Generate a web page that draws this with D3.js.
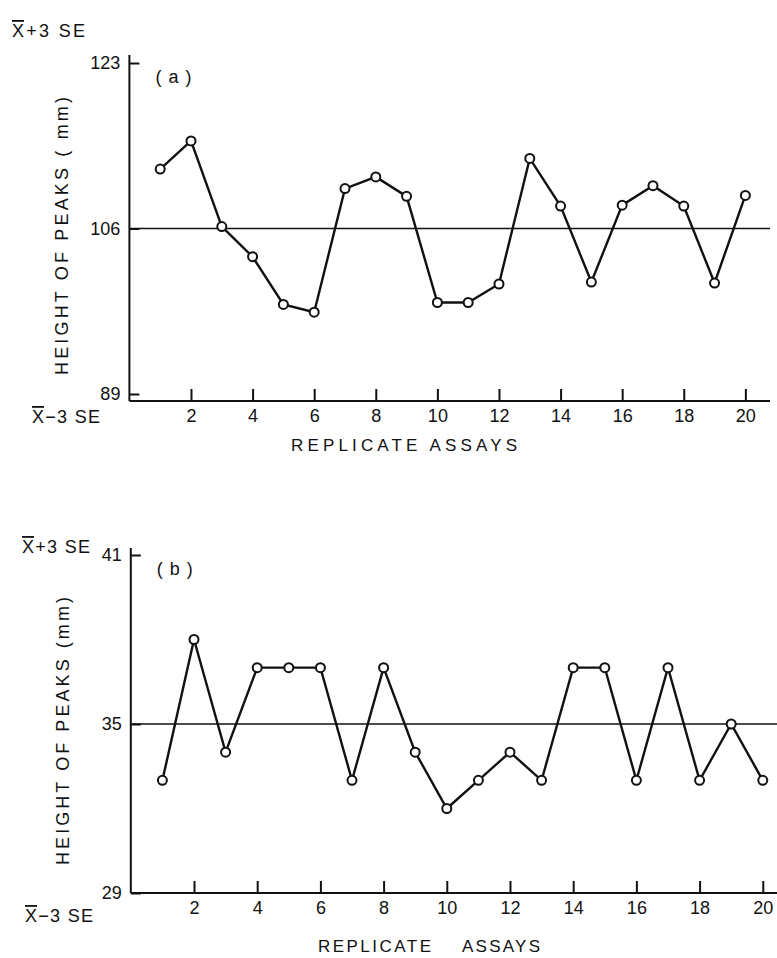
<!DOCTYPE html>
<html>
<head>
<meta charset="utf-8">
<script src="https://cdn.jsdelivr.net/npm/d3@7"></script>
<style>
body { margin:0; background:#fff; }
text { font-family:"Liberation Sans", Arial, sans-serif; fill:#111; }
</style>
</head>
<body>
<div id="chart"></div>
<script>
const width = 777
const height = 958

// replicate assay number
const assays = [1,2,3,4,5,6,7,8,9,10,11,12,13,14,15,16,17,18,19,20]
// height of peaks (mm), panel (a) and (b)
const peaksA = [112.1,115.0,106.2,103.1,98.2,97.4,110.1,111.3,109.3,98.4,98.4,100.3,113.2,108.3,100.5,108.4,110.4,108.3,100.4,109.4]
const peaksB = [33,38,34,37,37,37,33,37,34,32,33,34,33,37,37,33,37,33,35,33]
const xTicks = [2,4,6,8,10,12,14,16,18,20]
const yTicksA = [89,106,123]
const yTicksB = [29,35,41]
const meanA = 106
const meanB = 35

const svg = d3.select("#chart")
.append("svg")
.attr("width",width)
.attr("height",height)

function panel(opt){
const x = d3.scaleLinear().domain([0,opt.xMax]).range([opt.left,opt.right])
const y = d3.scaleLinear().domain(opt.yDomain).range(opt.yRange)
const g = svg.append("g")

// axis lines
g.append("line")
.attr("x1",opt.left).attr("x2",opt.left)
.attr("y1",opt.axisTop).attr("y2",opt.axisY)
.attr("stroke","#111").attr("stroke-width",2)
g.append("line")
.attr("x1",opt.left).attr("x2",opt.right)
.attr("y1",opt.axisY).attr("y2",opt.axisY)
.attr("stroke","#111").attr("stroke-width",2)

const xAxis = g.append("g")
.attr("transform",`translate(0,${opt.axisY})`)
.call(d3.axisBottom(x).tickValues(xTicks).tickSizeInner(-12).tickSizeOuter(0).tickPadding(8))
xAxis.select(".domain").remove()
xAxis.selectAll("line").attr("stroke","#111").attr("stroke-width",2)
xAxis.selectAll("text").attr("font-size",18).attr("font-family","Liberation Sans").attr("fill","#111")

const yAxis = g.append("g")
.attr("transform",`translate(${opt.left},0)`)
.call(d3.axisLeft(y).tickValues(opt.yTicks).tickSizeInner(-10).tickSizeOuter(0).tickPadding(9))
yAxis.select(".domain").remove()
yAxis.selectAll("line").attr("stroke","#111").attr("stroke-width",2)
yAxis.selectAll("text").attr("font-size",18).attr("font-family","Liberation Sans").attr("fill","#111")

// mean line
g.append("line")
.attr("x1",opt.left).attr("x2",opt.right)
.attr("y1",y(opt.mean)).attr("y2",y(opt.mean))
.attr("stroke","#111").attr("stroke-width",1.6)

const pts = assays.map((a,i)=>({a:a,v:opt.values[i]}))

g.append("path")
.datum(pts)
.attr("fill","none")
.attr("stroke","#111")
.attr("stroke-width",2.4)
.attr("d",d3.line().x(d=>x(d.a)).y(d=>y(d.v)))

g.selectAll("circle")
.data(pts)
.enter()
.append("circle")
.attr("cx",d=>x(d.a))
.attr("cy",d=>y(d.v))
.attr("r",4.5)
.attr("fill","#fff")
.attr("stroke","#111")
.attr("stroke-width",2)

// panel letter
g.append("text")
.attr("x",opt.left+26).attr("y",opt.letterY)
.attr("font-size",18)
.attr("textLength",36)
.attr("lengthAdjust","spacing")
.text(opt.letter)

// y title
g.append("text")
.attr("transform",`translate(${opt.yTitleX},${opt.yTitleY}) rotate(-90)`)
.attr("text-anchor","middle")
.attr("font-size",18)
.attr("textLength",opt.yTitleLen)
.attr("lengthAdjust","spacing")
.text(opt.yTitle)

return {x,y,g}
}

function seLabel(xp,yp,sign,len){
const t = svg.append("text")
.attr("x",xp).attr("y",yp)
.attr("font-size",18)
.attr("textLength",len)
.attr("lengthAdjust","spacing")
t.append("tspan").style("text-decoration","overline").text("X")
t.append("tspan").text(sign+"3 SE")
}

const pa = panel({
left:129.4, right:770, xMax:20.8,
yDomain:[89,123], yRange:[394,63],
axisTop:55, axisY:401,
yTicks:yTicksA, mean:meanA, values:peaksA,
letter:"(a)", letterY:83,
yTitle:"HEIGHT OF PEAKS ( mm)", yTitleX:68, yTitleY:236, yTitleLen:278
})

pa.g.append("text")
.attr("x",291).attr("y",451)
.attr("font-size",17)
.attr("textLength",226)
.attr("lengthAdjust","spacing")
.text("REPLICATE ASSAYS")

const pb = panel({
left:130.8, right:777, xMax:20.45,
yDomain:[29,41], yRange:[893,555],
axisTop:548, axisY:893,
yTicks:yTicksB, mean:meanB, values:peaksB,
letter:"(b)", letterY:575,
yTitle:"HEIGHT OF PEAKS (mm)", yTitleX:69, yTitleY:731, yTitleLen:268
})

pb.g.append("text")
.attr("x",318).attr("y",952)
.attr("font-size",17)
.attr("textLength",113)
.attr("lengthAdjust","spacing")
.text("REPLICATE")
pb.g.append("text")
.attr("x",462).attr("y",952)
.attr("font-size",17)
.attr("textLength",78)
.attr("lengthAdjust","spacing")
.text("ASSAYS")

seLabel(12,37,"+",73)
seLabel(32,423,"\u2212",68)
seLabel(22,553,"+",68)
seLabel(25,922,"\u2212",68)
</script>
</body>
</html>
